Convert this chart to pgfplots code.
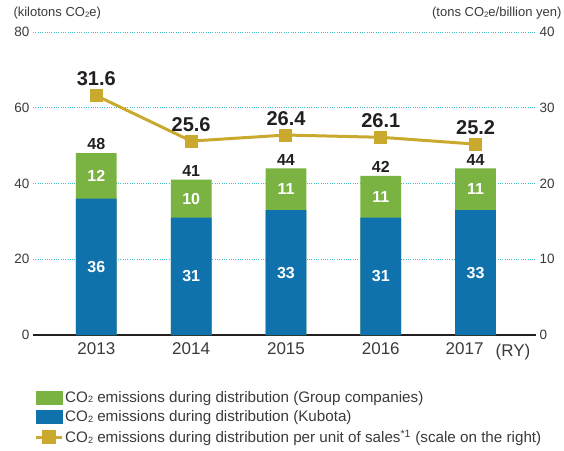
\documentclass[border=0pt]{standalone}
\usepackage{pgfplots}
\pgfplotsset{compat=1.18}
\usepackage{pgfplotstable}
\usepackage{fontspec}
\setmainfont{Liberation Sans}
\definecolor{cgreen}{HTML}{7AB342}
\definecolor{cblue}{HTML}{1072AC}
\definecolor{cgold}{HTML}{C9AA2E}
\definecolor{cgrid}{HTML}{3DBFC8}
\definecolor{ctext}{HTML}{3A3A3A}
\definecolor{cdark}{HTML}{231F20}
\newcommand{\two}{\raisebox{-0.3pt}{\scalebox{0.6}{2}}}

\pgfplotstableread{
x kubota group total
0 36 12 48
1 31 10 41
2 33 11 44
3 31 11 42
4 33 11 44
}\bars

\begin{document}
\begin{tikzpicture}
\path[use as bounding box] (0,0) rectangle (564pt,450pt);
\begin{axis}[
  at={(33pt,115pt)}, anchor=south west, scale only axis,
  width=503pt, height=303pt,
  xmin=-0.668, xmax=4.637, ymin=0, ymax=80,
  ybar, bar width=0.43, bar shift=0pt,
  axis line style={draw=none}, tick style={draw=none}, clip=false,
  xtick={0,1,2,3,4},
  xticklabels={2013,2014,2015,2016,\hspace*{-22pt}2017},
  xticklabel style={font=\fontsize{17}{17}\selectfont, text=ctext},
  ytick={20,40,60,80},
  extra y ticks={0},
  extra y tick style={major grid style={solid, draw=cdark, line width=1.3pt}},
  ymajorgrids,
  major grid style={draw=cgrid, line width=0.9pt, dash pattern=on 0.9pt off 1.4pt},
  yticklabel style={font=\fontsize{13.5}{13.5}\selectfont, text=ctext},
  /pgf/number format/assume math mode=true,
]
\addplot[fill=cgreen, draw=none,
  nodes near coords, point meta=y,
  nodes near coords style={font=\bfseries\fontsize{16}{16}\selectfont, text=cdark, anchor=south, inner sep=0pt, yshift=3pt}]
  table[x=x, y=total] {\bars};
\addplot[fill=cblue, draw=none] table[x=x, y=kubota] {\bars};
\addplot[sharp plot, draw=none, mark=none,
  nodes near coords, point meta=\thisrow{kubota},
  nodes near coords style={font=\bfseries\fontsize{16}{16}\selectfont, text=white, anchor=center}]
  table[x=x, y expr=\thisrow{kubota}/2] {\bars};
\addplot[sharp plot, draw=none, mark=none,
  nodes near coords, point meta=\thisrow{group},
  nodes near coords style={font=\bfseries\fontsize{16}{16}\selectfont, text=white, anchor=center}]
  table[x=x, y expr=\thisrow{kubota}+\thisrow{group}/2] {\bars};
\node[font=\fontsize{17}{17}\selectfont, text=ctext, anchor=center] at (axis cs:4.395,0) [yshift=-17pt] {(RY)};
\end{axis}

\begin{axis}[
  at={(33pt,115pt)}, anchor=south west, scale only axis,
  width=503pt, height=303pt,
  xmin=-0.668, xmax=4.637, ymin=0, ymax=40,
  axis line style={draw=none}, tick style={draw=none}, clip=false,
  xtick=\empty,
  ytick={0,10,20,30,40}, yticklabel pos=right,
  yticklabel style={font=\fontsize{13.5}{13.5}\selectfont, text=ctext},
  /pgf/number format/assume math mode=true,
  legend style={at={(axis description cs:0,0)}, anchor=north west, yshift=-52pt, xshift=-2pt,
    draw=none, fill=none, font=\fontsize{15.2}{15.2}\selectfont, text=ctext, row sep=3pt},
  legend cell align=left,
]
\addlegendimage{legend image code/.code={\fill[cgreen] (0pt,-6.5pt) rectangle (26pt,6.5pt);}}
\addlegendimage{legend image code/.code={\fill[cblue] (0pt,-6.5pt) rectangle (26pt,6.5pt);}}
\addplot[cgold, line width=3pt, mark=square*, mark size=5pt, mark options={solid},
  legend image code/.code={\draw[cgold, line width=3pt] (0pt,0pt) -- (26pt,0pt); \fill[cgold] (8pt,-5.5pt) rectangle (19pt,5.5pt);},
  nodes near coords, point meta=explicit symbolic,
  nodes near coords style={font=\bfseries\fontsize{20}{20}\selectfont, text=cdark, anchor=south, inner sep=0pt, yshift=8pt}]
  coordinates {(0,31.6)[31.6] (1,25.6)[25.6] (2,26.4)[26.4] (3,26.1)[26.1] (4,25.2)[25.2]};
\legend{CO\two{} emissions during distribution (Group companies),
  CO\two{} emissions during distribution (Kubota),
  CO\two{} emissions during distribution per unit of sales\textsuperscript{*1} (scale on the right)}
\end{axis}

\node[anchor=base west, font=\fontsize{13}{13}\selectfont, text=ctext] at (10pt,433pt) {(kilotons CO\two{}e)};
\node[anchor=base east, font=\fontsize{13}{13}\selectfont, text=ctext] at (565pt,433pt) {(tons CO\two{}e/billion yen)};
\end{tikzpicture}
\end{document}
